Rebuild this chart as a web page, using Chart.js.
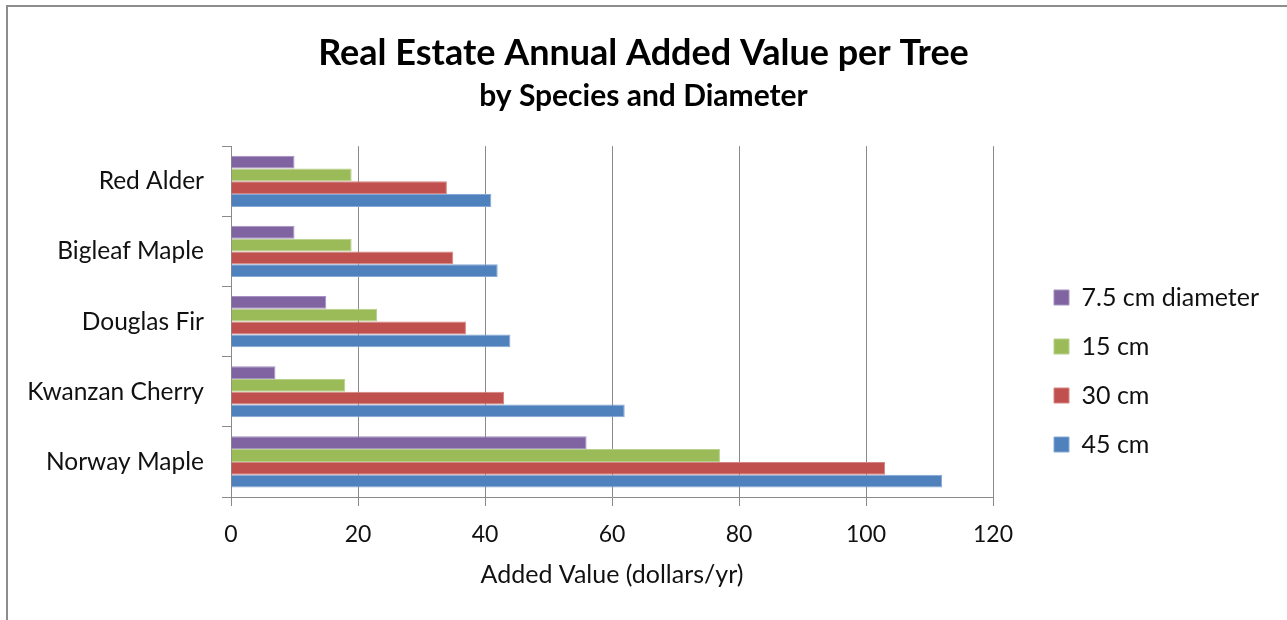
<!DOCTYPE html>
<html>
<head>
<meta charset="utf-8">
<script src="https://cdn.jsdelivr.net/npm/chart.js@4/dist/chart.umd.min.js"></script>
<style>
  html, body { margin: 0; padding: 0; background: #fff; overflow: hidden; }
  #frame {
    position: absolute; left: 6px; top: 5px; width: 1281px; height: 615px;
    box-sizing: border-box;
    border-top: 2px solid #8d8d8d; border-left: 2px solid #8d8d8d;
  }
  #chart { position: absolute; left: 0; top: 0; }
</style>
</head>
<body>
<div id="frame"></div>
<canvas id="chart" width="1287" height="620"></canvas>
<script>
// Species (top to bottom) and annual added value in dollars/yr per trunk diameter
const species = ['Red Alder', 'Bigleaf Maple', 'Douglas Fir', 'Kwanzan Cherry', 'Norway Maple'];
const seriesNames = ['7.5 cm diameter', '15 cm', '30 cm', '45 cm'];
const value7_5cm = [10, 10, 15, 7, 56];
const value15cm = [19, 19, 23, 18, 77];
const value30cm = [34, 35, 37, 43, 103];
const value45cm = [41, 42, 44, 62, 112];
const xTickValues = [0, 20, 40, 60, 80, 100, 120];

const FONT = 'Lato';
const GRID = '#8a8a8a';
const fills = ['#8064A2', '#9BBB59', '#C0504D', '#4F81BD'];
const edges = ['#a592c0', '#b7d08a', '#d48583', '#86a8d6'];
const seriesValues = [value7_5cm, value15cm, value30cm, value45cm];

// Legend sits in a fixed-width column right of the plot
const LEGEND_WIDTH = 294;
const LEGEND_X = 1030;
const LEGEND_Y = 261;

const legendColumn = {
  id: 'legendColumn',
  beforeLayout(chart) {
    const lg = chart.legend;
    if (lg && !lg._fixedWidth) {
      const fit = lg.fit;
      lg.fit = function () { fit.call(this); this.width = LEGEND_WIDTH; };
      lg._fixedWidth = true;
    }
  },
  afterLayout(chart) {
    const lg = chart.legend;
    if (!lg) return;
    const h = lg.height;
    lg.left = LEGEND_X; lg.right = LEGEND_X + LEGEND_WIDTH;
    lg.top = LEGEND_Y; lg.bottom = LEGEND_Y + h;
  }
};

new Chart(document.getElementById('chart'), {
  type: 'bar',
  data: {
    labels: species,
    datasets: seriesNames.map((name, i) => ({
      label: name,
      data: seriesValues[i],
      backgroundColor: fills[i],
      borderColor: edges[i],
      borderWidth: 1,
      categoryPercentage: 0.73,
      barPercentage: 1.0
    }))
  },
  options: {
    indexAxis: 'y',
    responsive: false,
    animation: false,
    layout: { padding: { left: 0, right: 0, top: 0, bottom: 0 } },
    plugins: {
      title: {
        display: true,
        text: 'Real Estate Annual Added Value per Tree',
        color: '#000',
        font: { family: FONT, size: 36, weight: 'bold' },
        padding: { top: 32, bottom: 1 }
      },
      subtitle: {
        display: true,
        text: 'by Species and Diameter',
        color: '#000',
        font: { family: FONT, size: 30, weight: 'bold' },
        padding: { top: 2, bottom: 32 }
      },
      legend: {
        position: 'right',
        align: 'start',
        labels: {
          color: '#111',
          font: { family: FONT, size: 25 },
          boxWidth: 15,
          boxHeight: 15,
          padding: 24
        }
      },
      tooltip: { enabled: false }
    },
    scales: {
      x: {
        min: 0,
        max: 120,
        afterBuildTicks(scale) { scale.ticks = xTickValues.map(v => ({ value: v })); },
        afterFit(scale) { scale.height = 123; },
        grid: { color: GRID, lineWidth: 1, tickLength: 9, drawTicks: true },
        border: { display: true, color: GRID, width: 1 },
        ticks: { color: '#111', font: { family: FONT, size: 23 }, padding: 15 },
        title: {
          display: true,
          text: 'Added Value (dollars/yr)',
          color: '#111',
          font: { family: FONT, size: 25 },
          padding: { top: 0, bottom: 30 }
        }
      },
      y: {
        afterFit(scale) { scale.width = 231; },
        grid: { drawOnChartArea: false, drawTicks: true, tickLength: 9, color: GRID, offset: true },
        border: { display: true, color: GRID, width: 1 },
        ticks: { color: '#111', font: { family: FONT, size: 24.5 }, padding: 18 }
      }
    }
  },
  plugins: [legendColumn]
});
</script>
</body>
</html>
